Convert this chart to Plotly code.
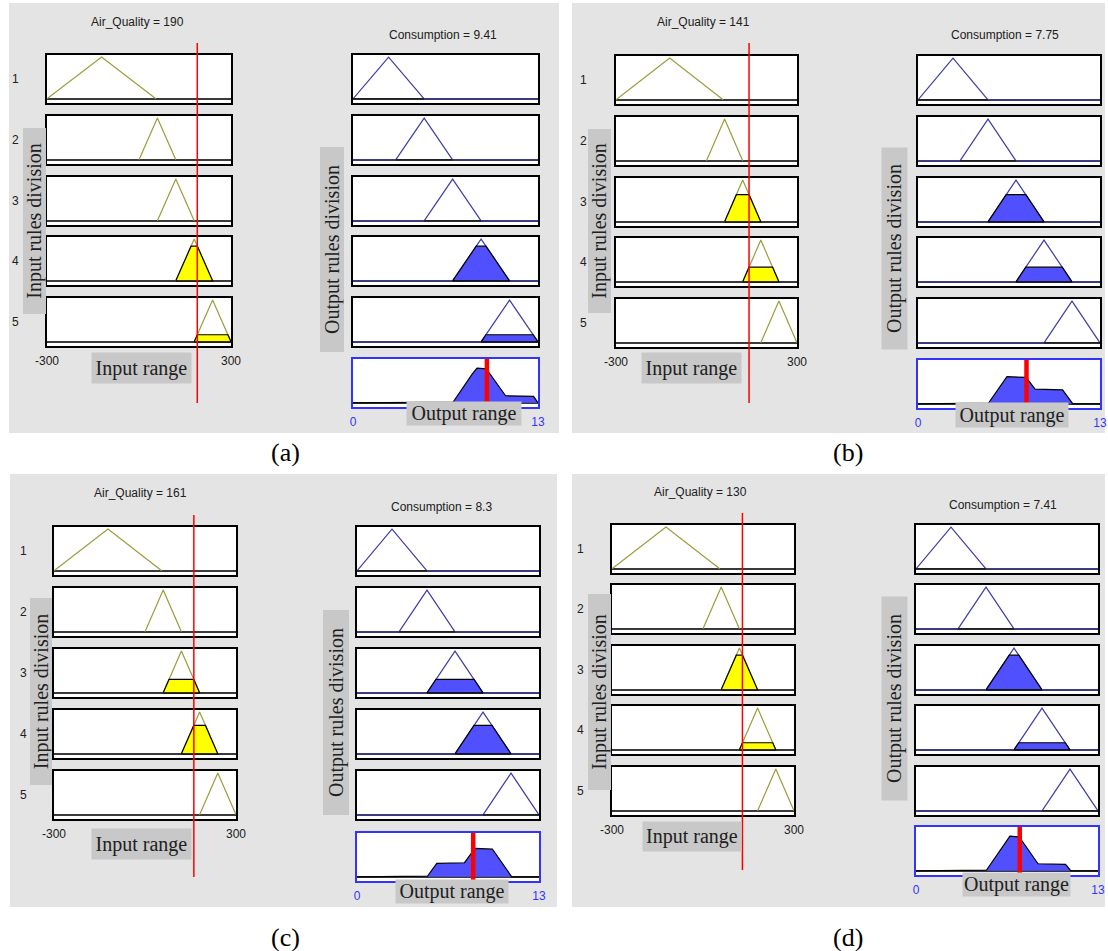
import numpy as np
import plotly.graph_objects as go

W, H = 1108, 951

# ---------------- data ----------------
panel_labels = ["(a)", "(b)", "(c)", "(d)"]
air_quality = [190, 141, 161, 130]
consumption = [9.41, 7.75, 8.3, 7.41]
rule_numbers = ["1", "2", "3", "4", "5"]
input_range = [-300, 300]
output_range = [0, 13]
input_mfs = [[-300, -122, 55], [0, 60, 120], [60, 120, 180], [120, 180, 240], [180, 240, 300]]
output_mfs = [[0, 2.5, 5], [3, 5, 7], [5, 7, 9], [7, 9, 11], [9, 11, 13]]
firing_a = [0, 0, 0, 0.83, 0.17]
firing_b = [0, 0, 0.65, 0.35, 0]
firing_c = [0, 0, 0.32, 0.68, 0]
firing_d = [0, 0, 0.83, 0.17, 0]
firing = [firing_a, firing_b, firing_c, firing_d]

# ---------------- geometry (pixels) ----------------
BOX_H = 48
geo = [
    dict(bg=(9, 3, 559, 433), inx=(47, 231), outx=(353, 538), tops=[55, 116, 177, 237, 298], agg=359,
         red=(43, 403), t_in=(137, 22), t_out=(443, 35), numx=15,
         inrange=(92, 353, 191, 383), inrot=(23, 129, 45, 314),
         outrange=(407, 402, 521, 425), outrot=(321, 148, 344, 352), cap=(285, 453)),
    dict(bg=(572, 3, 1105, 433), inx=(616, 797), outx=(918, 1100), tops=[56, 117, 178, 238, 299], agg=360,
         red=(43, 403), t_in=(703, 22), t_out=(1005, 35), numx=583,
         inrange=(642, 353, 741, 383), inrot=(588, 130, 610, 313),
         outrange=(956, 403, 1068, 427), outrot=(882, 148, 907, 349), cap=(848, 453)),
    dict(bg=(10, 474, 557, 907), inx=(54, 236), outx=(357, 539), tops=[527, 588, 649, 710, 771], agg=833,
         red=(515, 877), t_in=(140, 493), t_out=(441, 507), numx=23,
         inrange=(92, 829, 191, 859), inrot=(30, 599, 51, 785),
         outrange=(396, 880, 508, 903), outrot=(323, 610, 348, 814), cap=(285, 937)),
    dict(bg=(572, 474, 1105, 907), inx=(612, 794), outx=(916, 1098), tops=[525, 585, 646, 706, 767], agg=827,
         red=(513, 870), t_in=(700, 492), t_out=(1003, 505), numx=580,
         inrange=(643, 822, 741, 851), inrot=(588, 595, 610, 790),
         outrange=(963, 873, 1070, 896), outrot=(882, 597, 907, 800), cap=(848, 937)),
]

SANS = "Liberation Sans, Arial, sans-serif"
SERIF = "Liberation Serif, Times New Roman, serif"
OLIVE = "#9c9c3c"
YELLOW = "#ffff00"
BLUE_FILL = "#5050ff"
BLUE_LINE = "#3d3da8"
BOX_BLUE = "#3333ff"
BG_GRAY = "#e4e4e4"
LBL_GRAY = "#c8c8c8"
YR = [-0.1, 1.05]

fig = go.Figure()
layout = dict(width=W, height=H, margin=dict(l=0, r=0, t=0, b=0, autoexpand=False), paper_bgcolor="white",
              plot_bgcolor="rgba(0,0,0,0)", showlegend=False)
shapes, annotations = [], []
counter = [0]


def fx(px):
    return px / W


def fy(py):
    return 1 - py / H


def new_axes(x0, x1, y0, y1, xr, linecolor="black", ticks=None):
    counter[0] += 1
    k = counter[0]
    s = "" if k == 1 else str(k)
    xa = dict(domain=[fx(x0), fx(x1)], range=xr, anchor="y" + s, showgrid=False, zeroline=False,
              showline=True, mirror=True, linecolor=linecolor, linewidth=1.5, automargin=False,
              showticklabels=False, ticks="", fixedrange=True)
    if ticks is not None:
        vals, color = ticks
        xa.update(showticklabels=True, tickmode="array", tickvals=vals, ticktext=[str(v) for v in vals],
                  ticks="outside", ticklen=3, tickcolor="rgba(0,0,0,0)",
                  tickfont=dict(family=SANS, size=12, color=color))
    ya = dict(domain=[fy(y1), fy(y0)], range=YR, anchor="x" + s, showgrid=False, zeroline=True,
              zerolinecolor="#3a3a3a", zerolinewidth=1.5, showline=True, mirror=True, automargin=False,
              linecolor=linecolor, linewidth=1.5, showticklabels=False, ticks="", fixedrange=True)
    layout["xaxis" + s] = xa
    layout["yaxis" + s] = ya
    shapes.append(dict(type="rect", xref="x" + s + " domain", yref="y" + s + " domain",
                       x0=0, x1=1, y0=0, y1=1, fillcolor="white", line=dict(width=0), layer="below"))
    return "x" + s, "y" + s


def ann(text, px, py, size, color="#202020", family=SANS, **kw):
    d = dict(text=text, x=fx(px), y=fy(py), xref="paper", yref="paper", showarrow=False,
             xanchor="center", yanchor="middle", font=dict(family=family, size=size, color=color))
    d.update(kw)
    annotations.append(d)


def tri_y(x, p):
    a, b, c = p
    y = np.zeros_like(x, dtype=float)
    if b > a:
        m = (x >= a) & (x <= b)
        y[m] = (x[m] - a) / (b - a)
    if c > b:
        m = (x >= b) & (x <= c)
        y[m] = np.maximum(y[m], (c - x[m]) / (c - b))
    return y


for pi, g in enumerate(geo):
    # panel background
    bx0, by0, bx1, by1 = g["bg"]
    shapes.append(dict(type="rect", xref="paper", yref="paper", x0=fx(bx0), x1=fx(bx1),
                       y0=fy(by1), y1=fy(by0), fillcolor=BG_GRAY, line=dict(width=0), layer="below"))
    levels = firing[pi]
    first_in_axis = None
    # input boxes
    for i, p in enumerate(input_mfs):
        top = g["tops"][i]
        tk = (input_range, "#202020") if i == 4 else None
        xa, ya = new_axes(g["inx"][0], g["inx"][1], top, top + BOX_H, input_range, ticks=tk)
        if first_in_axis is None:
            first_in_axis = xa
        a, b, c = p
        fig.add_trace(go.Scatter(x=[a, b, c], y=[0, 1, 0], mode="lines", xaxis=xa, yaxis=ya,
                                 line=dict(color=OLIVE, width=1.2), hoverinfo="skip"))
        L = levels[i]
        if L > 0:
            fig.add_trace(go.Scatter(x=[a, a + (b - a) * L, c - (c - b) * L, c, a], y=[0, L, L, 0, 0],
                                     mode="lines", fill="toself", fillcolor=YELLOW, xaxis=xa, yaxis=ya,
                                     line=dict(color="black", width=1.2), hoverinfo="skip"))
        ann(rule_numbers[i], g["numx"], top + BOX_H / 2, 12)
    # output boxes
    for i, p in enumerate(output_mfs):
        top = g["tops"][i]
        xa, ya = new_axes(g["outx"][0], g["outx"][1], top, top + BOX_H, output_range)
        a, b, c = p
        fig.add_trace(go.Scatter(x=[output_range[0], a, b, c, output_range[1]], y=[0, 0, 1, 0, 0],
                                 mode="lines", xaxis=xa, yaxis=ya,
                                 line=dict(color=BLUE_LINE, width=1.2), hoverinfo="skip"))
        L = levels[i]
        if L > 0:
            fig.add_trace(go.Scatter(x=[a, a + (b - a) * L, c - (c - b) * L, c, a], y=[0, L, L, 0, 0],
                                     mode="lines", fill="toself", fillcolor=BLUE_FILL, xaxis=xa, yaxis=ya,
                                     line=dict(color="black", width=1.2), hoverinfo="skip"))
        else:
            fig.add_trace(go.Scatter(x=[a, c], y=[0, 0], mode="lines", xaxis=xa, yaxis=ya,
                                     line=dict(color="#202020", width=1.5), hoverinfo="skip"))
    # aggregate box
    xa, ya = new_axes(g["outx"][0], g["outx"][1], g["agg"], g["agg"] + BOX_H, output_range,
                      linecolor=BOX_BLUE, ticks=(output_range, BOX_BLUE))
    verts = np.array([v for p in output_mfs for v in p], dtype=float)
    xs = np.unique(np.concatenate([np.linspace(output_range[0], output_range[1], 2601), verts]))
    agg = np.zeros_like(xs)
    for i, p in enumerate(output_mfs):
        agg = np.maximum(agg, np.minimum(tri_y(xs, p), levels[i]))
    fig.add_trace(go.Scatter(x=xs, y=agg, mode="lines", fill="tozeroy", fillcolor=BLUE_FILL,
                             xaxis=xa, yaxis=ya, line=dict(color="black", width=1.2), hoverinfo="skip"))
    v = consumption[pi]
    fig.add_trace(go.Scatter(x=[v, v], y=YR, mode="lines", xaxis=xa, yaxis=ya,
                             line=dict(color="#ff0000", width=4.5), hoverinfo="skip"))
    # input red line (in data coords of input axis)
    shapes.append(dict(type="line", xref=first_in_axis, yref="paper", x0=air_quality[pi], x1=air_quality[pi],
                       y0=fy(g["red"][1]), y1=fy(g["red"][0]), line=dict(color="#ff0000", width=1.5),
                       layer="above"))
    # titles
    ann("Air_Quality = %d" % air_quality[pi], g["t_in"][0], g["t_in"][1], 12)
    ann("Consumption = %s" % consumption[pi], g["t_out"][0], g["t_out"][1], 12)
    # labels
    x0, y0, x1, y1 = g["inrange"]
    ann("Input range", (x0 + x1) / 2, (y0 + y1) / 2, 20, family=SERIF, bgcolor=LBL_GRAY,
        width=x1 - x0, height=y1 - y0, borderpad=0)
    x0, y0, x1, y1 = g["outrange"]
    ann("Output range", (x0 + x1) / 2, (y0 + y1) / 2, 20, family=SERIF, bgcolor=LBL_GRAY,
        width=x1 - x0, height=y1 - y0, borderpad=0)
    x0, y0, x1, y1 = g["inrot"]
    ann("Input rules division", (x0 + x1) / 2, (y0 + y1) / 2, 20, family=SERIF, bgcolor=LBL_GRAY,
        textangle=-90, width=y1 - y0, height=x1 - x0, borderpad=0)
    x0, y0, x1, y1 = g["outrot"]
    ann("Output rules division", (x0 + x1) / 2, (y0 + y1) / 2, 20, family=SERIF, bgcolor=LBL_GRAY,
        textangle=-90, width=y1 - y0, height=x1 - x0, borderpad=0)
    ann(panel_labels[pi], g["cap"][0], g["cap"][1], 26, color="black", family=SERIF)

layout["shapes"] = shapes
layout["annotations"] = annotations
fig.update_layout(**layout)
fig.write_html("out.html")
